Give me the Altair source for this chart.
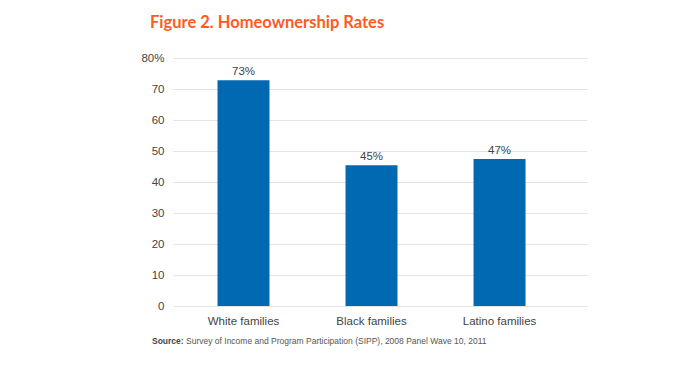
import altair as alt
import pandas as pd

categories = ["White families", "Black families", "Latino families"]
values = [72.8, 45.4, 47.4]
value_labels = ["73%", "45%", "47%"]
y_ticks = [0, 10, 20, 30, 40, 50, 60, 70, 80]

df = pd.DataFrame({"cat": categories, "val": values, "lab": value_labels})

FONT = "Liberation Sans, Arial, sans-serif"

x = alt.X("cat:N", sort=categories, title=None,
          scale=alt.Scale(paddingInner=0.594, paddingOuter=0.414, align=0.42),
          axis=alt.Axis(labelAngle=0, ticks=False, domain=False, grid=False, labelFont=FONT,
                        labelFontSize=11.5, labelColor="#444", labelPadding=9))
y = alt.Y("val:Q", title=None,
          scale=alt.Scale(domain=[0, 80], nice=False),
          axis=alt.Axis(values=y_ticks, ticks=False, domain=False,
                        labelExpr="datum.value == 80 ? '80%' : datum.label",
                        labelFont=FONT, labelFontSize=11.5, labelColor="#444",
                        labelPadding=9, gridColor="#e3e3e3", gridWidth=1,
                        labelOverlap=False))

base = alt.Chart(df).encode(x=x, y=y)
bars = base.mark_bar(color="#0069b1")
labels = base.mark_text(baseline="bottom", dy=-3, font=FONT,
                        fontSize=11.5, color="#444").encode(text="lab:N")

src1 = alt.Chart(pd.DataFrame({"t": ["Source:"]})).mark_text(
    align="left", baseline="alphabetic", font=FONT, fontSize=8.5, fontWeight="bold",
    color="#444").encode(x=alt.value(-21), y=alt.value(286), text="t:N")
src2 = alt.Chart(pd.DataFrame({"t": ["Survey of Income and Program Participation (SIPP), 2008 Panel Wave 10, 2011"]})).mark_text(
    align="left", baseline="alphabetic", font=FONT, fontSize=8.5,
    color="#555").encode(x=alt.value(13), y=alt.value(286), text="t:N")

chart = alt.layer(bars, labels, src1, src2).properties(
    width=414, height=248,
    background="white",
    title=alt.TitleParams("Figure 2. Homeownership Rates", anchor="start", frame="group",
                          dx=-23, fontSize=16.5, font="Lato", fontWeight="bold",
                          color="#ff5a1f", offset=21),
    autosize=alt.AutoSizeParams(type="none"),
    padding={"left": 165, "top": 50, "right": 90, "bottom": 55},
).configure_view(strokeWidth=0)

chart.save("out.html", embed_options={"renderer": "svg", "actions": False})
